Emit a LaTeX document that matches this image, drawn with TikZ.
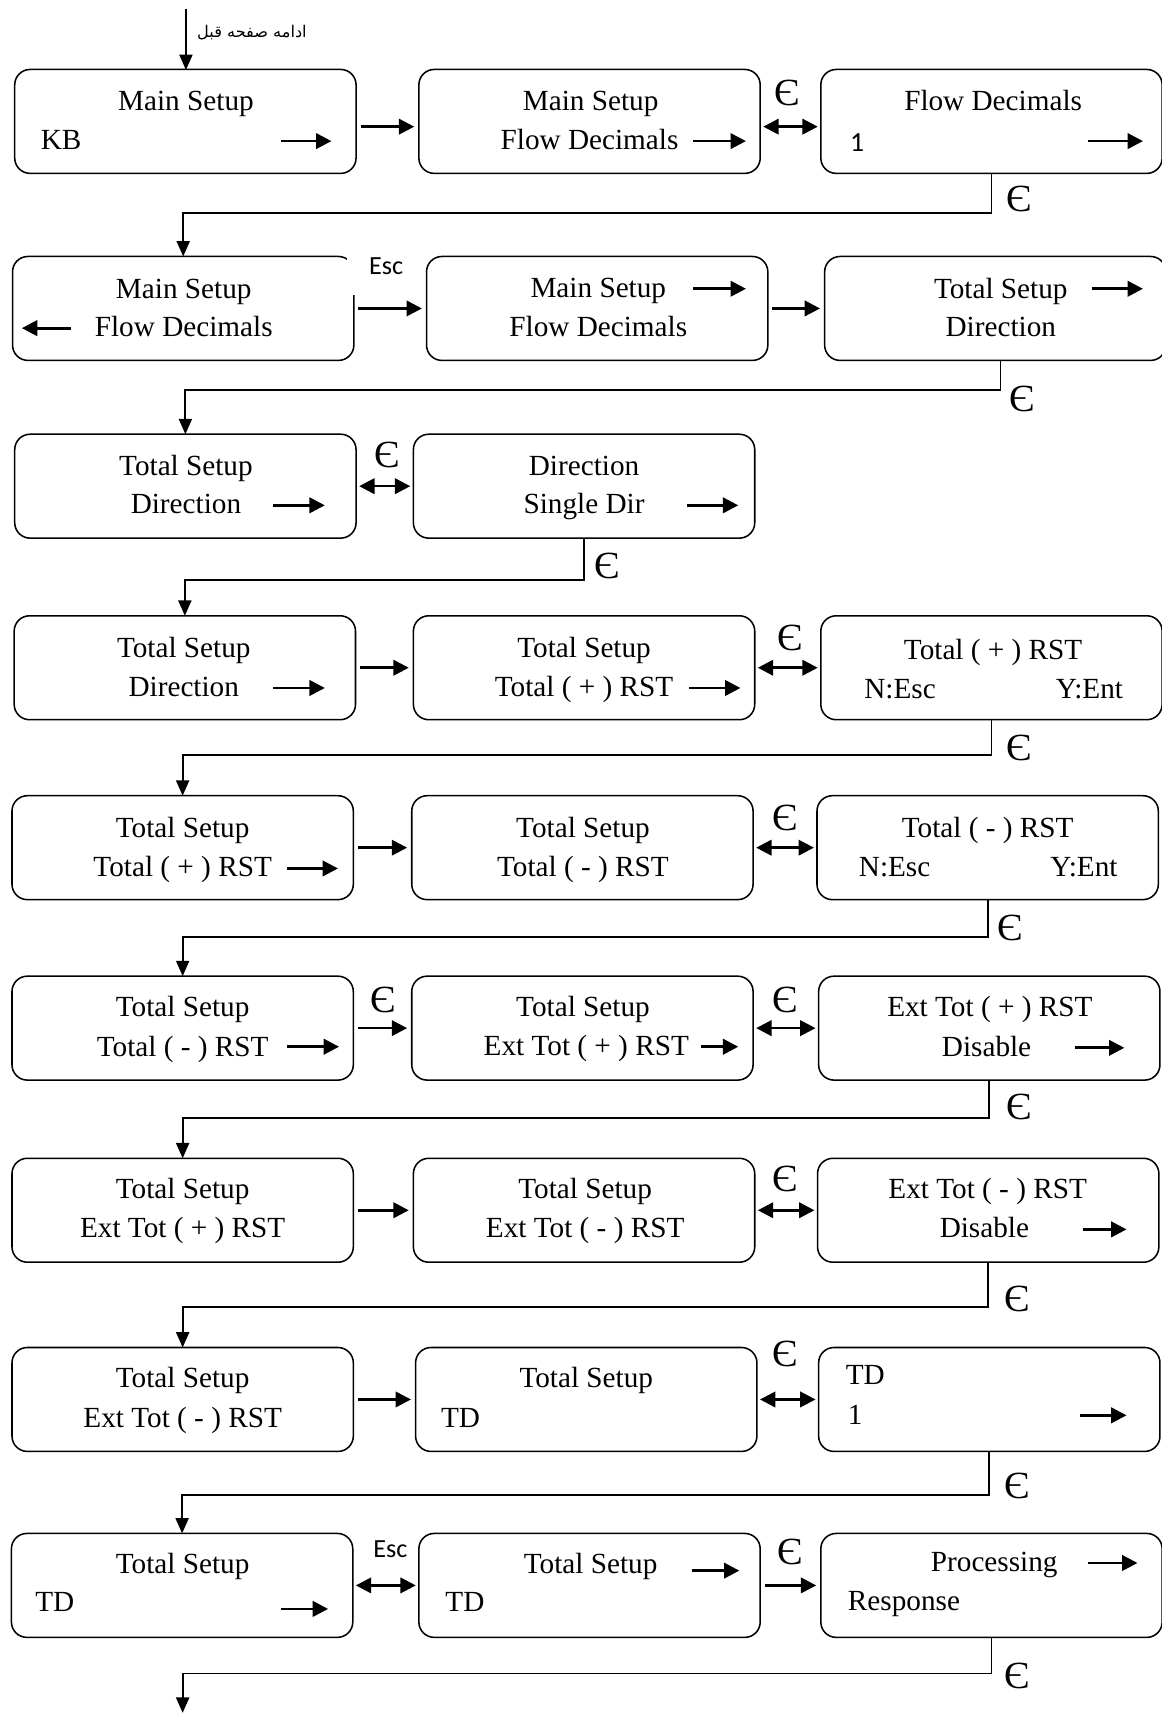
\documentclass[tikz,border=0pt]{standalone}
\usepackage{fontspec}
\setmainfont{Liberation Serif}
\newfontfamily\calibri{Carlito}
\newfontfamily\arabicfont[Script=Arabic]{DejaVu Sans}
\TeXXeTstate=1
\usetikzlibrary{arrows.meta}

\begin{document}
\begin{tikzpicture}[
  x=0.025cm, y=-0.025cm,
  font=\fontsize{19}{22}\selectfont,
  screen/.style={draw, rounded corners=10pt, line width=1pt,
                 minimum width=7.8cm, minimum height=2.375cm,
                 inner sep=0pt, outer sep=0pt},
  txt/.style={inner sep=0pt, text height=1.2em, text depth=0.1em},
  key/.style={inner sep=0pt, font=\fontsize{25}{25}\selectfont},
  esc/.style={inner sep=0pt, font=\calibri\fontsize{17}{17}\selectfont},
  keyarr/.style={-{Triangle[length=10pt, width=10pt]}, line width=1.8pt},
  link/.style={-{Triangle[length=10pt, width=10pt]}, line width=1.7pt,
               shorten <=3pt, shorten >=3pt},
  both/.style={{Triangle[length=10pt, width=10pt]}-{Triangle[length=10pt, width=10pt]},
               line width=1.7pt, shorten <=2pt, shorten >=2pt},
  flow/.style={-{Triangle[length=10pt, width=8.5pt]}, line width=1.2pt},
]
  \useasboundingbox (0,0) rectangle (1062,1568);

  %% entry from the previous page
  \coordinate (prev) at (170,8);
  \node[anchor=west, inner sep=0pt, font=\arabicfont\fontsize{10.5}{13}\selectfont]
    (prevlbl) at (180,30) {\beginR ادامه صفحه قبل\endR};
  \draw[flow] (prev) -- (170,64);

  %% row 1
  \node[screen] (a1) at (169.5,111) {};
  \node[txt] (a1t) at (170,93) {Main Setup};
  \node[txt, anchor=west] (a1b) at (37,129) {KB};
  \draw[keyarr] (257,129) -- (303,129);

  \node[screen] (a2) at (539,111) {};
  \node[txt] (a2t) at (540,93) {Main Setup};
  \node[txt] (a2b) at (539,129) {Flow Decimals};
  \draw[keyarr] (634,129) -- (682,129);

  \node[screen] (a3) at (906.5,111) {};
  \node[txt] (a3t) at (908,93) {Flow Decimals};
  \node[txt, anchor=west, font=\calibri\fontsize{18}{20}\selectfont] (a3b) at (777,131) {1};
  \draw[keyarr] (995,129) -- (1045,129);

  \draw[link] ([yshift=-0.12cm]a1.east) -- ([yshift=-0.12cm]a2.west);
  \draw[both] ([yshift=-0.12cm]a2.east) -- ([yshift=-0.12cm]a3.west);
  \node[key] (ka2) at (720,85) {Є};

  %% row 2
  \node[screen] (b1) at (167.5,282) {};
  \fill[white] (317,226) rectangle (330,270);
  \node[txt] (b1t) at (168,265) {Main Setup};
  \node[txt] (b1b) at (168,300) {Flow Decimals};
  \draw[keyarr] (65,300) -- (20,300);

  \node[screen] (b2) at (546,282) {};
  \node[txt] (b2t) at (547,264) {Main Setup};
  \node[txt] (b2b) at (547,300) {Flow Decimals};
  \draw[keyarr] (634,264) -- (682,264);

  \node[screen] (b3) at (910,282) {};
  \node[txt] (b3t) at (915,265) {Total Setup};
  \node[txt] (b3b) at (915,300) {Direction};
  \draw[keyarr] (998,264) -- (1045,264);

  \draw[link] (b1) -- (b2);
  \node[esc] (eb1) at (353,243) {Esc};
  \draw[link] (b2) -- (b3);

  %% row 3
  \node[screen] (c1) at (169.5,444.5) {};
  \node[txt] (c1t) at (170,427) {Total Setup};
  \node[txt] (c1b) at (170,462) {Direction};
  \draw[keyarr] (250,462) -- (297,462);

  \node[screen] (c2) at (534,444.5) {};
  \node[txt] (c2t) at (534,427) {Direction};
  \node[txt] (c2b) at (534,462) {Single Dir};
  \draw[keyarr] (628,462) -- (675,462);

  \draw[both] (c1) -- (c2);
  \node[key] (kc1) at (354,416) {Є};

  %% row 4
  \node[screen] (d1) at (169,610.5) {};
  \node[txt] (d1t) at (168,593) {Total Setup};
  \node[txt] (d1b) at (168,629) {Direction};
  \draw[keyarr] (250,629) -- (297,629);

  \node[screen] (d2) at (534,610.5) {};
  \node[txt] (d2t) at (534,593) {Total Setup};
  \node[txt] (d2b) at (534,629) {Total ( + ) RST};
  \draw[keyarr] (630,629) -- (677,629);

  \node[screen] (d3) at (906.5,610.5) {};
  \node[txt] (d3t) at (908,595) {Total ( + ) RST};
  \node[txt, anchor=west] (d3l) at (790,631) {N:Esc};
  \node[txt, anchor=east] (d3r) at (1027,631) {Y:Ent};

  \draw[link] (d1) -- (d2);
  \draw[both] (d2) -- (d3);
  \node[key] (kd2) at (722,583) {Є};

  %% row 5
  \node[screen] (e1) at (167,775) {};
  \node[txt] (e1t) at (167,758) {Total Setup};
  \node[txt] (e1b) at (167,794) {Total ( + ) RST};
  \draw[keyarr] (262,794) -- (309,794);

  \node[screen] (e2) at (532.5,775) {};
  \node[txt] (e2t) at (533,758) {Total Setup};
  \node[txt] (e2b) at (533,794) {Total ( - ) RST};

  \node[screen] (e3) at (903,775) {};
  \node[txt] (e3t) at (903,758) {Total ( - ) RST};
  \node[txt, anchor=west] (e3l) at (785,794) {N:Esc};
  \node[txt, anchor=east] (e3r) at (1022,794) {Y:Ent};

  \draw[link] (e1) -- (e2);
  \draw[both] (e2) -- (e3);
  \node[key] (ke2) at (718,748) {Є};

  %% row 6
  \node[screen] (f1) at (167,940) {};
  \node[txt] (f1t) at (167,922) {Total Setup};
  \node[txt] (f1b) at (167,958) {Total ( - ) RST};
  \draw[keyarr] (262,957) -- (310,957);

  \node[screen] (f2) at (532.5,940) {};
  \node[txt] (f2t) at (533,922) {Total Setup};
  \node[txt] (f2b) at (536,957) {Ext Tot ( + ) RST};
  \draw[keyarr] (641,957) -- (675,957);

  \node[screen] (f3) at (904.5,940) {};
  \node[txt] (f3t) at (905,922) {Ext Tot ( + ) RST};
  \node[txt] (f3b) at (902,958) {Disable};
  \draw[keyarr] (983,958) -- (1028,958);

  \draw[link] (f1) -- (f2);
  \node[key] (kf1) at (350,914) {Є};
  \draw[both] (f2) -- (f3);
  \node[key] (kf2) at (718,914) {Є};

  %% row 7
  \node[screen] (g1) at (167,1106.5) {};
  \node[txt] (g1t) at (167,1088) {Total Setup};
  \node[txt] (g1b) at (167,1124) {Ext Tot ( + ) RST};

  \node[screen] (g2) at (534,1106.5) {};
  \node[txt] (g2t) at (535,1088) {Total Setup};
  \node[txt] (g2b) at (535,1124) {Ext Tot ( - ) RST};

  \node[screen] (g3) at (903.5,1106.5) {};
  \node[txt] (g3t) at (903,1088) {Ext Tot ( - ) RST};
  \node[txt] (g3b) at (900,1124) {Disable};
  \draw[keyarr] (990,1124) -- (1030,1124);

  \draw[link] (g1) -- (g2);
  \draw[both] (g2) -- (g3);
  \node[key] (kg2) at (718,1078) {Є};

  %% row 8
  \node[screen] (h1) at (167,1279.5) {};
  \node[txt] (h1t) at (167,1261) {Total Setup};
  \node[txt] (h1b) at (167,1297) {Ext Tot ( - ) RST};

  \node[screen] (h2) at (536,1279.5) {};
  \node[txt] (h2t) at (536,1261) {Total Setup};
  \node[txt, anchor=west] (h2b) at (403,1297) {TD};

  \node[screen] (h3) at (904.5,1279.5) {};
  \node[txt, anchor=west] (h3t) at (773,1258) {TD};
  \node[txt, anchor=west] (h3b) at (775,1295) {1};
  \draw[keyarr] (987,1294) -- (1030,1294);

  \draw[link] (h1) -- (h2);
  \draw[both] (h2) -- (h3);
  \node[key] (kh2) at (718,1238) {Є};

  %% row 9
  \node[screen] (i1) at (166.5,1449.5) {};
  \node[txt] (i1t) at (167,1431) {Total Setup};
  \node[txt, anchor=west] (i1b) at (32,1466) {TD};
  \draw[keyarr] (257,1471) -- (300,1471);

  \node[screen] (i2) at (539,1449.5) {};
  \node[txt] (i2t) at (540,1431) {Total Setup};
  \node[txt, anchor=west] (i2b) at (407,1466) {TD};
  \draw[keyarr] (633,1436) -- (676,1436);

  \node[screen] (i3) at (906.5,1449.5) {};
  \node[txt] (i3t) at (909,1429) {Processing};
  \node[txt, anchor=west] (i3b) at (775,1465) {Response};
  \draw[keyarr] (995,1429) -- (1040,1429);

  \draw[both] (i1) -- (i2);
  \node[esc] (ei1) at (357,1416) {Esc};
  \draw[link] (i2) -- (i3);
  \node[key] (ki2) at (722,1419) {Є};

  %% row to row connectors
  \draw[flow] (a3.south) -- ++(0,36) -| (b1.north);
  \node[key] (ka3) at (932,182) {Є};
  \draw[flow] ([xshift=0.12cm]b3.south) -- ++(0,27) -| (c1.north);
  \node[key] (kb3) at (935,365) {Є};
  \draw[flow] (c2.south) -- ++(0,38) -| (d1.north);
  \node[key] (kc2) at (555,517) {Є};
  \draw[flow] (d3.south) -- ++(0,32) -| (e1.north);
  \node[key] (kd3) at (932,684) {Є};
  \draw[flow] (e3.south) -- ++(0,34) -| (f1.north);
  \node[key] (ke3) at (924,848) {Є};
  \draw[flow] (f3.south) -- ++(0,35) -| (g1.north);
  \node[key] (kf3) at (932,1012) {Є};
  \draw[flow] (g3.south) -- ++(0,41) -| (h1.north);
  \node[key] (kg3) at (930,1188) {Є};
  \draw[flow] (h3.south) -- ++(0,40) -| (i1.north);
  \node[key] (kh3) at (930,1359) {Є};

  %% on to the next page
  \coordinate (next) at (167,1566);
  \draw[flow] (i3.south) -- ++(0,33) -| (next);
  \node[key] (ki3) at (930,1532) {Є};
\end{tikzpicture}
\end{document}
